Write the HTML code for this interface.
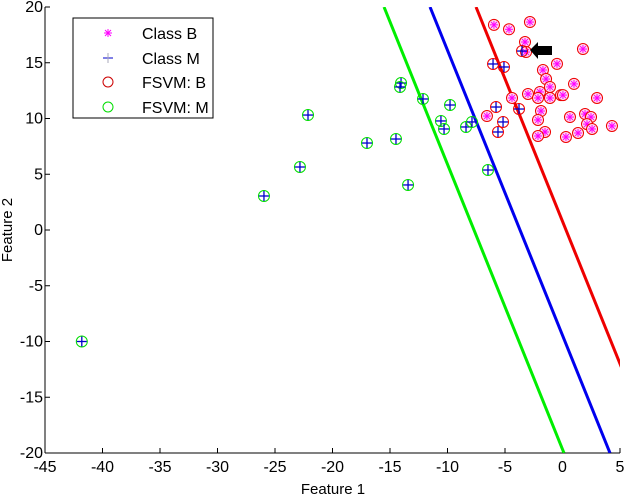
<!DOCTYPE html>
<html><head><meta charset="utf-8"><style>
body{margin:0;background:#fff;}
svg{display:block;font-family:"Liberation Sans",sans-serif;}
</style></head><body>
<svg id="chart" width="624" height="496"></svg>
<script>
const xTicks=[-45,-40,-35,-30,-25,-20,-15,-10,-5,0,5];
const yTicks=[-20,-15,-10,-5,0,5,10,15,20];
const classBX=[-5.96,-4.65,-2.83,-3.26,-3.17,1.78,-0.48,-1.70,-1.43,-1.09,1.0,-1.96,-3.0,-2.13,-1.09,-0.13,0.04,3.0,-1.87,-6.57,-2.13,0.65,1.96,2.48,2.13,2.57,-1.52,-2.13,0.3,1.35,4.3,-4.39];
const classBY=[18.4,18.0,18.65,16.86,15.96,16.23,14.9,14.35,13.54,12.83,13.1,12.38,12.2,11.84,11.84,12.1,12.1,11.84,10.67,10.22,9.87,10.13,10.4,10.13,9.5,9.06,8.79,8.43,8.34,8.7,9.33,11.84];
const mAsBX=[-6.04,-5.09,-5.78,-5.17,-5.61,-3.78,-3.52];
const mAsBY=[14.89,14.62,11.03,9.69,8.79,10.85,16.05];
const classMX=[-14.04,-14.13,-12.13,-9.78,-10.57,-10.3,-8.39,-7.87,-22.13,-17.0,-14.48,-22.83,-13.43,-25.96,-6.48,-41.8];
const classMY=[13.18,12.83,11.75,11.21,9.78,9.06,9.24,9.69,10.31,7.8,8.16,5.65,4.04,3.05,5.38,-10.0];
const lineNames=["green-boundary","blue-boundary","red-boundary"];
const lineColors=["#00ee00","#0000ee","#ee0000"];
const lineTopX=[-15.52,-11.52,-7.52];
const lineBotX=[0.13,4.13,8.13];

const svg=document.getElementById('chart');
const NS="http://www.w3.org/2000/svg";
const X0=45,X1=620,Y0=453,Y1=7;
const sx=v=>X0+(v+45)/50*(X1-X0);
const sy=v=>Y0-(v+20)/40*(Y0-Y1);
function mk(tag,attrs,parent){const e=document.createElementNS(NS,tag);for(const k in attrs)e.setAttribute(k,attrs[k]);(parent||svg).appendChild(e);return e;}

const defs=mk('defs',{});
const cp=mk('clipPath',{id:'clip'},defs);
mk('rect',{x:X0,y:Y1,width:X1-X0,height:Y0-Y1},cp);

const axes=mk('g',{});


mk('line',{x1:X0,y1:Y0,x2:X1,y2:Y0,stroke:'#000','stroke-width':1},axes);
mk('line',{x1:X0,y1:Y0,x2:X0,y2:Y1,stroke:'#000','stroke-width':1},axes);
xTicks.forEach(t=>{const x=sx(t);
 mk('line',{x1:x,y1:Y0,x2:x,y2:Y0-5,stroke:'#000'},axes);
 const tx=mk('text',{x:x,y:Y0+19,'text-anchor':'middle','font-size':16},axes);tx.textContent=t;
 
 });
yTicks.forEach(t=>{const y=sy(t);
 mk('line',{x1:X0,y1:y,x2:X0+5,y2:y,stroke:'#000'},axes);
 const tx=mk('text',{x:X0-2,y:y+5,'text-anchor':'end','font-size':16},axes);tx.textContent=t;
 
 });
const xl=mk('text',{x:333,y:494,'text-anchor':'middle','font-size':15},axes);xl.textContent='Feature 1';


const yl=mk('text',{x:0,y:0,'text-anchor':'middle','font-size':15,transform:'translate(12,230) rotate(-90)'},axes);yl.textContent='Feature 2';



const lg=mk('g',{'clip-path':'url(#clip)'});
lineTopX.forEach((t,i)=>{
 const l=mk('line',{x1:sx(t),y1:sy(20),x2:sx(lineBotX[i]),y2:sy(-20),stroke:lineColors[i],'stroke-width':3},lg);
 
 });

function star(g,x,y){const r=4;
 mk('line',{x1:x-r,y1:y,x2:x+r,y2:y,stroke:'#ff00ff'},g);
 mk('line',{x1:x,y1:y-r,x2:x,y2:y+r,stroke:'#ff00ff'},g);
 mk('line',{x1:x-3,y1:y-3,x2:x+3,y2:y+3,stroke:'#ff00ff'},g);
 mk('line',{x1:x-3,y1:y+3,x2:x+3,y2:y-3,stroke:'#ff00ff'},g);}
function plus(g,x,y){const r=5;
 mk('line',{x1:x-r,y1:y,x2:x+r,y2:y,stroke:'#0000cc','stroke-width':1.3},g);
 mk('line',{x1:x,y1:y-r,x2:x,y2:y+r,stroke:'#0000cc','stroke-width':1.3},g);}

const pg=mk('g',{});
classBX.forEach((v,i)=>{const x=sx(v),y=sy(classBY[i]);
 const g=mk('g',{},pg);
 
 
 mk('circle',{cx:x,cy:y,r:5.5,fill:'#fde',stroke:'#ee0000','stroke-width':1},g);star(g,x,y);});
mAsBX.forEach((v,i)=>{const x=sx(v),y=sy(mAsBY[i]);
 const g=mk('g',{},pg);
 
 
 mk('circle',{cx:x,cy:y,r:5.5,fill:'none',stroke:'#ee0000','stroke-width':1},g);plus(g,x,y);});
classMX.forEach((v,i)=>{const x=sx(v),y=sy(classMY[i]);
 const g=mk('g',{},pg);
 
 
 mk('circle',{cx:x,cy:y,r:5.5,fill:'none',stroke:'#00dd00','stroke-width':1},g);plus(g,x,y);});
</script>
<svg style="position:absolute;left:0;top:0" width="624" height="496">
 <polygon points="530,50 538,42 538,46 552,46 552,55 538,55 538,59" fill="#000"/>
 <g font-family="Liberation Sans, sans-serif" font-size="16">
  <rect x="73" y="18" width="140" height="100" fill="#fff" stroke="#000"/>
  <g>
   <g stroke="#ff00ff"><line x1="104" y1="33" x2="112" y2="33"/><line x1="108" y1="29" x2="108" y2="37"/><line x1="105" y1="30" x2="111" y2="36"/><line x1="105" y1="36" x2="111" y2="30"/></g>
   <text x="142" y="39">Class B</text></g>
  <g>
   <line x1="103" y1="58" x2="113" y2="58" stroke="#0000cc"/><line x1="108" y1="53" x2="108" y2="63" stroke="#aab"/>
   <text x="142" y="64">Class M</text></g>
  <g>
   <circle cx="108" cy="82" r="5" fill="none" stroke="#cc0000"/>
   <text x="142" y="88">FSVM: B</text></g>
  <g>
   <circle cx="108" cy="107" r="5" fill="none" stroke="#00dd00"/>
   <text x="142" y="113">FSVM: M</text></g>
 </g>
</svg>
</body></html>
